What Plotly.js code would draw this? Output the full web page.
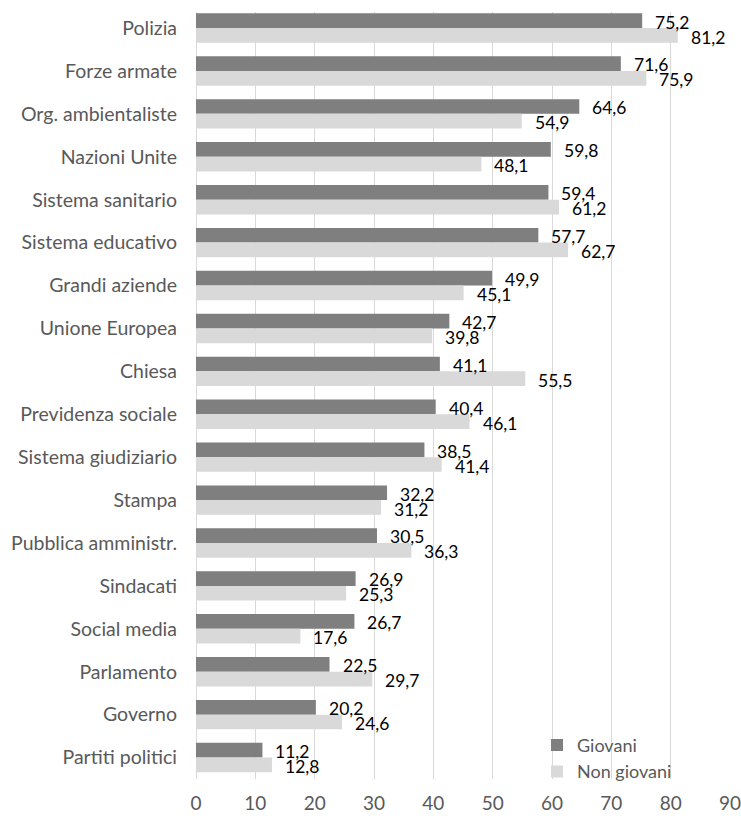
<!DOCTYPE html>
<html>
<head>
<meta charset="utf-8">
<script src="https://cdn.plot.ly/plotly-3.0.1.min.js"></script>
<style>html,body{margin:0;padding:0;background:#fff;}#chart{width:741px;height:816px;}</style>
</head>
<body>
<div id="chart"></div>
<script>
const categories = ["Polizia","Forze armate","Org. ambientaliste","Nazioni Unite","Sistema sanitario","Sistema educativo","Grandi aziende","Unione Europea","Chiesa","Previdenza sociale","Sistema giudiziario","Stampa","Pubblica amministr.","Sindacati","Social media","Parlamento","Governo","Partiti politici"];
const giovani = [75.2,71.6,64.6,59.8,59.4,57.7,49.9,42.7,41.1,40.4,38.5,32.2,30.5,26.9,26.7,22.5,20.2,11.2];
const nonGiovani = [81.2,75.9,54.9,48.1,61.2,62.7,45.1,39.8,55.5,46.1,41.4,31.2,36.3,25.3,17.6,29.7,24.6,12.8];
const seriesNames = ["Giovani","Non giovani"];
const xTicks = [0,10,20,30,40,50,60,70,80,90];

const FONT = "Lato, 'Open Sans', sans-serif";
const fmt = v => v.toFixed(1).replace('.', ',');

const traces = [
  {type:'bar', orientation:'h', name:seriesNames[0], y:categories, x:giovani,
   marker:{color:'#7f7f7f', line:{width:0}}, hoverinfo:'none'},
  {type:'bar', orientation:'h', name:seriesNames[1], y:categories, x:nonGiovani,
   marker:{color:'#d9d9d9', line:{width:0}}, hoverinfo:'none'}
];

const annotations = [];
categories.forEach((c,i)=>{
  annotations.push({x:giovani[i], y:c, xref:'x', yref:'y', text:fmt(giovani[i]), showarrow:false,
    xanchor:'left', yanchor:'middle', xshift:11, yshift:6, font:{family:FONT,size:17.5,color:'#000'}});
  annotations.push({x:nonGiovani[i], y:c, xref:'x', yref:'y', text:fmt(nonGiovani[i]), showarrow:false,
    xanchor:'left', yanchor:'middle', xshift:11, yshift:-9, font:{family:FONT,size:17.5,color:'#000'}});
});

const layout = {
  width:741, height:816,
  margin:{l:196, r:11, t:12, b:36.5, pad:0},
  paper_bgcolor:'#fff', plot_bgcolor:'#fff',
  barmode:'group', bargap:0.315, bargroupgap:0,
  showlegend:true,
  legend:{x:0.6386, xanchor:'left', y:0.068, yanchor:'top', traceorder:'normal',
    bgcolor:'rgba(0,0,0,0)', font:{family:FONT,size:18,color:'#595959'}, itemwidth:30},
  xaxis:{range:[0,90], tickvals:xTicks, ticktext:xTicks.map(String), showgrid:true, gridcolor:'#d9d9d9', gridwidth:1,
    zeroline:true, zerolinecolor:'#d9d9d9', zerolinewidth:1, showline:false, ticks:'', ticklabelstandoff:11,
    ticklabeloverflow:'allow', automargin:false,
    tickfont:{family:FONT,size:19,color:'#595959'}, fixedrange:true},
  yaxis:{type:'category', categoryorder:'array', categoryarray:categories, range:[17.5,-0.374],
    showgrid:false, zeroline:false, showline:false, ticks:'', ticklabelstandoff:18, automargin:false,
    tickfont:{family:FONT,size:19.5,color:'#595959'}, fixedrange:true},
  annotations:annotations,
  font:{family:FONT}
};

Plotly.newPlot('chart', traces, layout, {displayModeBar:false, staticPlot:true});
</script>
</body>
</html>
